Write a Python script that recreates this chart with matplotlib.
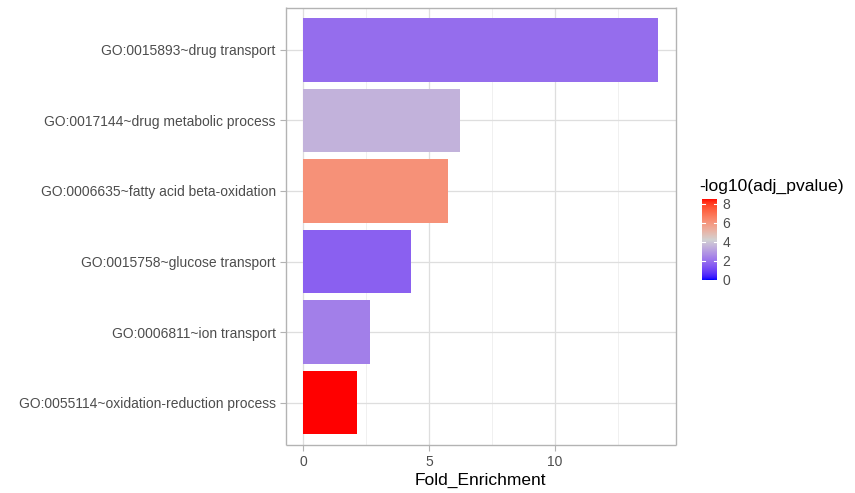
import numpy as np
import matplotlib
matplotlib.use("Agg")
import matplotlib.pyplot as plt
from matplotlib.colors import ListedColormap, Normalize
from matplotlib.cm import ScalarMappable

plt.rcParams['font.family'] = ['Liberation Sans', 'DejaVu Sans']

# GO terms, listed top to bottom
terms = [
    "GO:0015893~drug transport",
    "GO:0017144~drug metabolic process",
    "GO:0006635~fatty acid beta-oxidation",
    "GO:0015758~glucose transport",
    "GO:0006811~ion transport",
    "GO:0055114~oxidation-reduction process",
]
fold_enrichment = [14.11, 6.25, 5.77, 4.28, 2.66, 2.14]
neg_log10_padj = [1.9, 3.5, 6.1, 1.6, 2.3, 8.5]

x_ticks = [0, 5, 10]
legend_ticks = [0, 2, 4, 6, 8]


# ---- diverging blue / grey / red palette interpolated in CIELAB ----
def srgb_to_lab(rgb):
    rgb = np.asarray(rgb, float)
    lin = np.where(rgb <= 0.04045, rgb / 12.92, ((rgb + 0.055) / 1.055) ** 2.4)
    M = np.array([[0.4124, 0.3576, 0.1805],
                  [0.2126, 0.7152, 0.0722],
                  [0.0193, 0.1192, 0.9505]])
    xyz = lin @ M.T / np.array([0.95047, 1.0, 1.08883])
    f = np.where(xyz > 0.008856, np.cbrt(xyz), 7.787 * xyz + 16 / 116)
    L = 116 * f[..., 1] - 16
    a = 500 * (f[..., 0] - f[..., 1])
    b = 200 * (f[..., 1] - f[..., 2])
    return np.stack([L, a, b], -1)


def lab_to_srgb(lab):
    lab = np.asarray(lab, float)
    fy = (lab[..., 0] + 16) / 116
    fx = fy + lab[..., 1] / 500
    fz = fy - lab[..., 2] / 200
    f = np.stack([fx, fy, fz], -1)
    xyz = np.where(f > 0.2069, f ** 3, (f - 16 / 116) / 7.787)
    xyz = xyz * np.array([0.95047, 1.0, 1.08883])
    Minv = np.array([[3.2406, -1.5372, -0.4986],
                     [-0.9689, 1.8758, 0.0415],
                     [0.0557, -0.2040, 1.0570]])
    lin = xyz @ Minv.T
    lin = np.clip(lin, 0, 1)
    rgb = np.where(lin <= 0.0031308, 12.92 * lin, 1.055 * lin ** (1 / 2.4) - 0.055)
    return np.clip(rgb, 0, 1)


vmin, vmax, vmid = 0.0, 8.5, 4.2
low = srgb_to_lab([0.0, 0.0, 1.0])
mid = srgb_to_lab([0.82, 0.82, 0.82])
high = srgb_to_lab([1.0, 0.0, 0.0])

vals = np.linspace(vmin, vmax, 512)
labs = np.empty((len(vals), 3))
for i, v in enumerate(vals):
    if v <= vmid:
        t = (v - vmin) / (vmid - vmin)
        labs[i] = low + (mid - low) * t
    else:
        t = (v - vmid) / (vmax - vmid)
        labs[i] = mid + (high - mid) * t
cmap = ListedColormap(lab_to_srgb(labs))
norm = Normalize(vmin=vmin, vmax=vmax)

# ---- figure ----
W, H = 855, 493
fig = plt.figure(figsize=(W / 100, H / 100), dpi=100)
ax = fig.add_axes([285.5 / W, 1 - 445 / H, (676 - 285.5) / W, (445 - 7.5) / H])

n = len(terms)
ypos = np.arange(n)[::-1]
colors = cmap(norm(np.array(neg_log10_padj)))
ax.barh(ypos, fold_enrichment, height=0.9, color=colors, zorder=3)

xmax = max(fold_enrichment)
pad = 0.05 * xmax
ax.set_xlim(-pad, xmax + pad)
ax.set_ylim(-0.6, n - 1 + 0.6)

ax.set_xticks(x_ticks)
ax.set_xticks([2.5, 7.5, 12.5], minor=True)
ax.set_yticks(ypos)
ax.set_yticklabels(terms)

ax.grid(True, which='major', color='#DEDEDE', linewidth=0.9, zorder=0)
ax.grid(True, which='minor', axis='x', color='#EEEEEE', linewidth=0.6, zorder=0)
ax.set_axisbelow(True)

for s in ax.spines.values():
    s.set_color('#B3B3B3')
    s.set_linewidth(1.0)
    s.set_capstyle('butt')

ax.tick_params(axis='both', which='major', colors='#B3B3B3', length=4, width=0.8,
               labelsize=10, labelcolor='#4D4D4D', pad=3)
ax.tick_params(axis='both', which='minor', length=0)
ax.set_xlabel("Fold_Enrichment", fontsize=12.5, color='black', labelpad=3)

# ---- colour bar legend ----
cax = fig.add_axes([701.5 / W, 1 - 279.5 / H, (717 - 701.5) / W, (279.5 - 199) / H])
sm = ScalarMappable(norm=norm, cmap=cmap)
cb = fig.colorbar(sm, cax=cax, ticks=legend_ticks)
cb.outline.set_visible(False)
cb.ax.tick_params(length=0, labelsize=10, labelcolor='#4D4D4D', pad=4)
for t in legend_ticks:
    cax.plot([0, 0.2], [t, t], color='white', lw=0.8, transform=cax.get_yaxis_transform())
    cax.plot([0.8, 1.0], [t, t], color='white', lw=0.8, transform=cax.get_yaxis_transform())
fig.text(699 / W, 1 - 186 / H, "-log10(adj_pvalue)", fontsize=12.6, color='black',
         ha='left', va='center')

fig.savefig("out.png", dpi=100)
